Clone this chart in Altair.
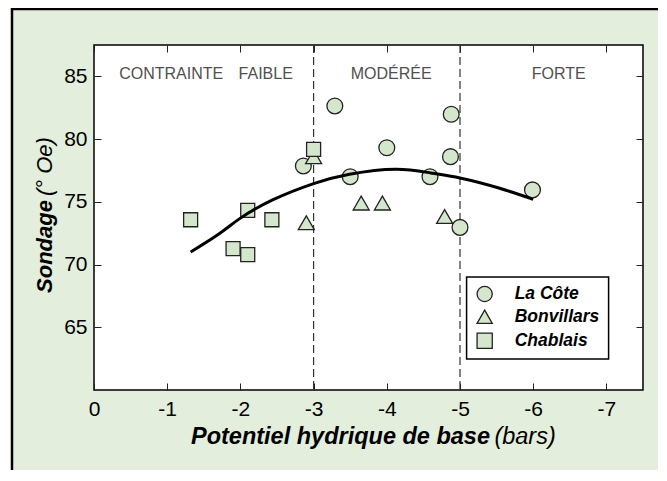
import altair as alt
import pandas as pd

# ---------------- data ----------------
series_names = ["La Côte", "Bonvillars", "Chablais"]
series_shapes = ["circle", "triangle-up", "square"]
series_sizes = [250, 256, 196]

cote_x = [-2.86, -3.29, -3.50, -4.00, -4.88, -4.87, -4.59, -5.99, -5.00]
cote_y = [77.86, 82.64, 77.00, 79.31, 81.98, 78.60, 77.00, 75.95, 72.96]

bonv_x = [-2.90, -3.00, -3.65, -3.94, -4.79]
bonv_y = [73.33, 78.60, 74.90, 74.90, 73.83]

chab_x = [-1.32, -2.10, -2.43, -3.00, -1.90, -2.10]
chab_y = [73.57, 74.31, 73.57, 79.18, 71.27, 70.79]

fit_x = [-1.32, -1.72, -2.00, -2.44, -3.00, -3.49, -4.12, -4.60, -5.00, -5.53, -6.00]
fit_y = [71.00, 72.50, 73.70, 75.15, 76.45, 77.20, 77.60, 77.30, 76.90, 76.10, 75.20]

zone_limits = [-3, -5]
zone_labels = ["CONTRAINTE", "FAIBLE", "MODÉRÉE", "FORTE"]
zone_label_x = [-1.055, -2.346, -4.06, -6.35]
zone_label_y = [85.16, 85.16, 85.16, 85.16]

x_ticks = [0, -1, -2, -3, -4, -5, -6, -7]
y_ticks = [65, 70, 75, 80, 85]

x_title_parts = ["Potentiel hydrique de base", "(bars)"]
y_title_parts = ["Sondage", "(° Oe)"]

# legend box placement (in data units of the chart)
legend_box_x = [-5.09, -7.03]
legend_box_y = [69.01, 62.47]
legend_symbol_x = -5.337
legend_label_x = -5.747
legend_row_y = [67.65, 65.84, 63.93]

# ---------------- styling ----------------
W, H = 549, 345
BG = "#e3eedc"
FILL = "#d4e7cd"
STROKE = "#222222"
FONT_N = "Liberation Sans Narrow, Arial Narrow, Liberation Sans, Arial, sans-serif"
FONT = "Liberation Sans, Arial, sans-serif"

xscale = alt.Scale(domain=[0, -7.5], nice=False, zero=False)
yscale = alt.Scale(domain=[60, 87.5], nice=False, zero=False)
shape_scale = alt.Scale(domain=series_names, range=series_shapes)

series_frames = []
for name, xs, ys in zip(series_names, [cote_x, bonv_x, chab_x], [cote_y, bonv_y, chab_y]):
    series_frames.append(pd.DataFrame({"serie": name, "x": xs, "y": ys}))
fit = pd.DataFrame({"x": fit_x, "y": fit_y})
zones = pd.DataFrame({"x": zone_limits})
zlab = pd.DataFrame({"x": zone_label_x, "y": zone_label_y, "t": zone_labels})
one = pd.DataFrame({"a": [0]})
leg_df = pd.DataFrame({
    "serie": series_names,
    "x": [legend_symbol_x] * 3,
    "lx": [legend_label_x] * 3,
    "y": legend_row_y,
})

common_tick = dict(offset=-7, tickSize=7, domain=False, grid=False, tickColor="#222",
                   tickWidth=1, zindex=1, title=None)

ax_bottom = alt.Axis(orient="bottom", values=x_ticks, labelExpr="'' + datum.value",
                     labelFlush=False, labelPadding=8, labelFont=FONT_N, labelFontSize=21,
                     labelColor="black", **common_tick)
ax_left = alt.Axis(orient="left", values=y_ticks, labelPadding=7, labelFont=FONT_N,
                   labelFontSize=21, labelColor="black", **common_tick)
ax_top = alt.Axis(orient="top", values=x_ticks, labels=False, **common_tick)
ax_right = alt.Axis(orient="right", values=y_ticks, labels=False, **common_tick)

# outer framed background and white plot area
outer = alt.Chart(one).mark_rect(fill=BG, stroke="black", strokeWidth=2.5).encode(
    x=alt.value(-82), x2=alt.value(W + 200), y=alt.value(-36), y2=alt.value(H + 200))
plotbg = alt.Chart(one).mark_rect(fill="white", stroke="black", strokeWidth=1.5).encode(
    x=alt.value(0), x2=alt.value(W), y=alt.value(0), y2=alt.value(H))

dashed = alt.Chart(zones).mark_rule(color="#333", strokeDash=[8, 4], strokeWidth=1.2).encode(
    x=alt.X("x:Q", scale=xscale, axis=ax_top))

point_layers = []
for i, (df, sz) in enumerate(zip(series_frames, series_sizes)):
    point_layers.append(
        alt.Chart(df).mark_point(filled=True, strokeWidth=1.3, opacity=1, size=sz).encode(
            x=alt.X("x:Q", scale=xscale, axis=ax_bottom if i == 0 else None),
            y=alt.Y("y:Q", scale=yscale, axis=ax_left if i == 0 else None),
            shape=alt.Shape("serie:N", scale=shape_scale, legend=None),
            fill=alt.value(FILL),
            stroke=alt.value(STROKE),
        )
    )

curve = alt.Chart(fit).mark_line(color="black", strokeWidth=3, interpolate="natural").encode(
    x=alt.X("x:Q", scale=xscale, axis=None),
    y=alt.Y("y:Q", scale=yscale, axis=ax_right),
)

zone_text = alt.Chart(zlab).mark_text(font=FONT, fontSize=16, color="#505050").encode(
    x=alt.X("x:Q", scale=xscale, axis=None),
    y=alt.Y("y:Q", scale=yscale, axis=None),
    text="t:N",
)

# legend drawn as marks
leg_box = alt.Chart(one).mark_rect(fill="white", stroke="black", strokeWidth=1.5).encode(
    x=alt.datum(legend_box_x[0], scale=xscale, axis=None), x2=alt.datum(legend_box_x[1]),
    y=alt.datum(legend_box_y[0], scale=yscale, axis=None), y2=alt.datum(legend_box_y[1]))
leg_sym = alt.Chart(leg_df).mark_point(filled=True, strokeWidth=1.3, opacity=1, size=230).encode(
    x=alt.X("x:Q", scale=xscale, axis=None),
    y=alt.Y("y:Q", scale=yscale, axis=None),
    shape=alt.Shape("serie:N", scale=shape_scale, legend=None),
    fill=alt.value(FILL),
    stroke=alt.value(STROKE),
)
leg_txt = alt.Chart(leg_df).mark_text(align="left", baseline="middle", font=FONT_N,
                                      fontSize=17.5, fontStyle="italic", fontWeight="bold",
                                      color="black").encode(
    x=alt.X("lx:Q", scale=xscale, axis=None),
    y=alt.Y("y:Q", scale=yscale, axis=None),
    text="serie:N",
)

xt1 = alt.Chart(one).mark_text(text=x_title_parts[0], font=FONT_N, fontSize=23.5,
                               fontStyle="italic", fontWeight="bold", align="right",
                               baseline="middle", color="black").encode(
    x=alt.datum(-5.41, scale=xscale, axis=None), y=alt.datum(56.25, scale=yscale, axis=None))
xt2 = alt.Chart(one).mark_text(text=x_title_parts[1], font=FONT_N, fontSize=23.5,
                               fontStyle="italic", align="left", baseline="middle",
                               color="black").encode(
    x=alt.datum(-5.47, scale=xscale, axis=None), y=alt.datum(56.25, scale=yscale, axis=None))
yt1 = alt.Chart(one).mark_text(text=y_title_parts[0], font=FONT_N, fontSize=22,
                               fontStyle="italic", fontWeight="bold", align="right",
                               baseline="middle", angle=270, color="black").encode(
    x=alt.datum(0.673, scale=xscale, axis=None), y=alt.datum(75.14, scale=yscale, axis=None))
yt2 = alt.Chart(one).mark_text(text=y_title_parts[1], font=FONT_N, fontSize=22,
                               fontStyle="italic", align="left", baseline="middle",
                               angle=270, color="black").encode(
    x=alt.datum(0.673, scale=xscale, axis=None), y=alt.datum(75.46, scale=yscale, axis=None))

chart = alt.layer(outer, plotbg, dashed, zone_text, *point_layers, curve,
                  leg_box, leg_sym, leg_txt, xt1, xt2, yt1, yt2).properties(
    width=W, height=H,
    autosize=alt.AutoSizeParams(type="none"),
    padding={"left": 86, "top": 37, "right": 15, "bottom": 80},
).configure_view(stroke=None)

chart.save("out.html", embed_options={"renderer": "svg", "actions": False})
